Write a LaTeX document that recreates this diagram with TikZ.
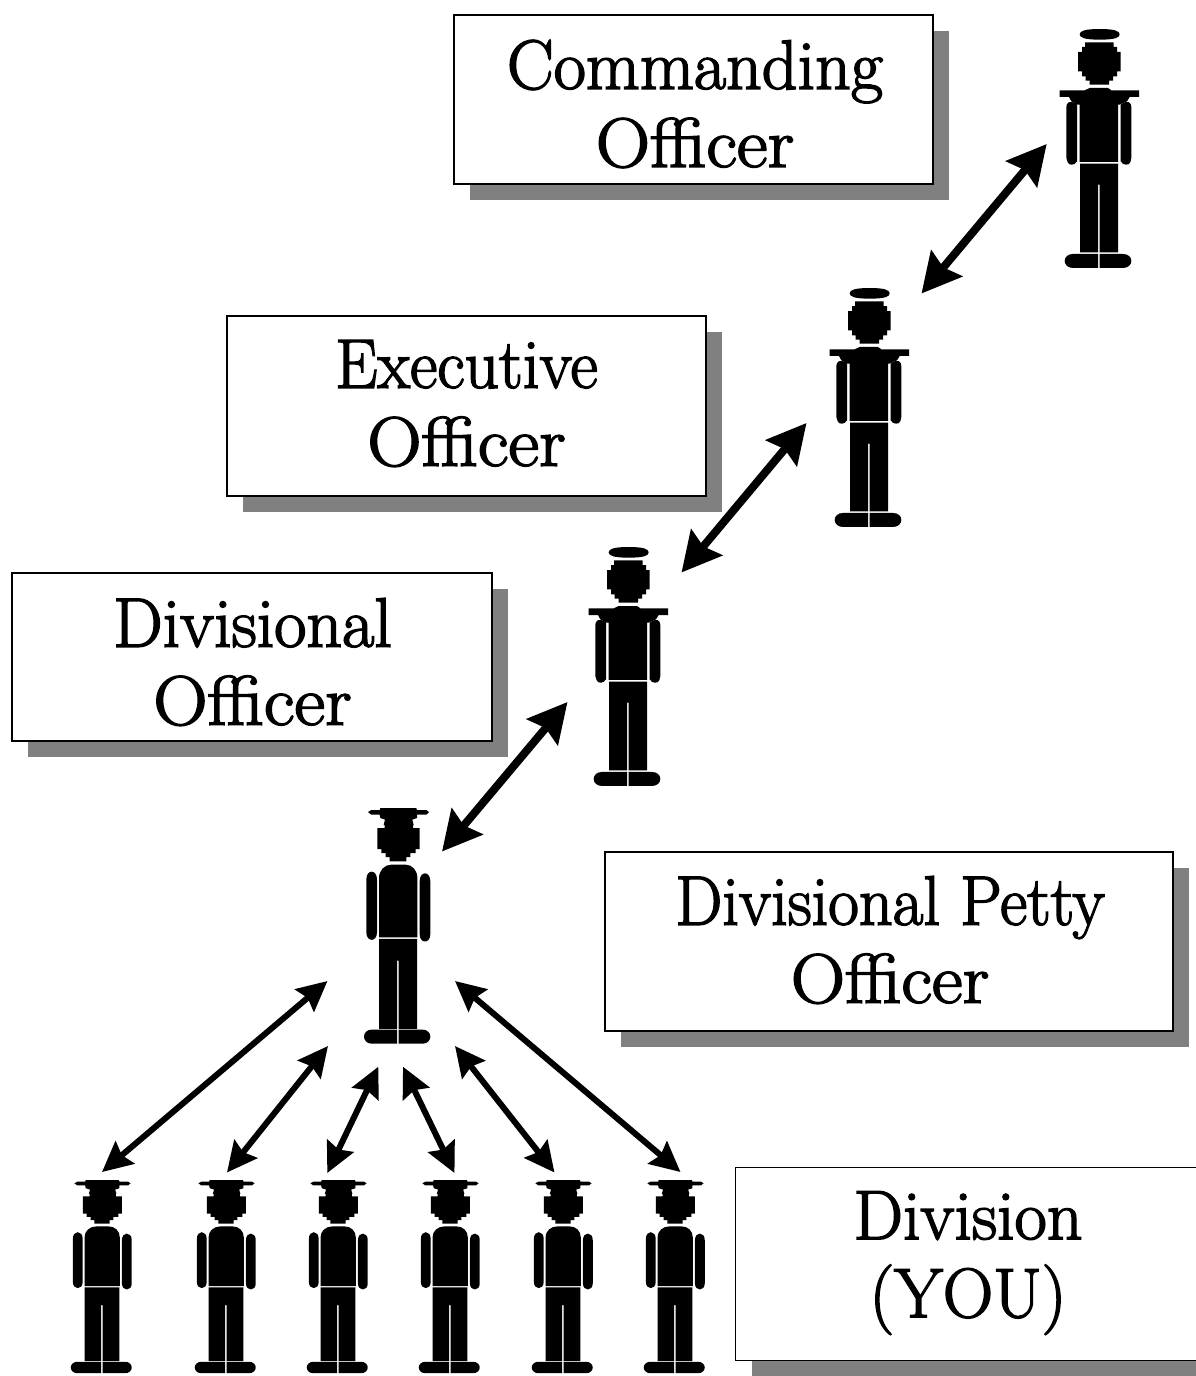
\documentclass[tikz,border=0pt]{standalone}
\usepackage{fontspec}
\usepackage{graphicx}
\usetikzlibrary{arrows.meta,shadows}
\newfontfamily\rankfont{Latin Modern Roman}[FakeBold=2.2]
\newcommand{\Offc}{\scalebox{1.075}[1]{Officer}}
\tikzset{
  every picture/.style={x=1pt,y=-1pt},
  ranktext/.style={align=center,inner sep=0pt,
    font=\rankfont\fontsize{70}{78}\selectfont},
  rankbox/.style={draw=black,line width=1.4pt,fill=white,inner sep=0pt,
    drop shadow={shadow xshift=16pt,shadow yshift=-16pt,fill=black!50,opacity=1}},
  link/.style={line width=8pt,{Stealth[length=39pt,width=40pt,inset=5pt]}-{Stealth[length=39pt,width=40pt,inset=5pt]}},
  sublink/.style={line width=6pt,{Stealth[length=30pt,width=29pt,inset=4pt]}-{Stealth[length=30pt,width=29pt,inset=4pt]}},
  pics/officer/.style={code={
    \begin{scope}[x=0.3333pt,y=-0.3333pt,shift={(-178,-28)}]
    \fill (120,44) .. controls (120,34) and (135,28) .. (180,28) .. controls (225,28) and (240,34) .. (240,44) .. controls (240,54) and (225,60) .. (180,60) .. controls (135,60) and (120,54) .. (120,44) -- cycle;
    \fill (136,68) -- (222,68) -- (222,82) -- (232,82) -- (232,97) -- (243,97) -- (243,155) -- (232,155) -- (232,170) -- (220,170) -- (220,183) -- (208,183) -- (208,195) -- (150,195) -- (150,183) -- (138,183) -- (138,170) -- (127,170) -- (127,155) -- (115,155) -- (115,97) -- (127,97) -- (127,82) -- (136,82) -- cycle;
    \fill (60,212) -- (135,212) -- (150,205) -- (205,205) -- (215,212) -- (298,212) -- (298,232) -- (270,232) -- (262,245) -- (240,255) -- (235,255) -- (235,427) -- (120,427) -- (120,255) -- (112,255) -- (95,245) -- (88,232) -- (60,232) -- cycle;
    \fill (80,262) .. controls (80,250) and (90,238) .. (112,255) -- (112,425) .. controls (105,438) and (88,438) .. (84,428) -- (80,415) -- cycle;
    \fill (243,255) .. controls (265,238) and (275,250) .. (275,262) -- (275,415) -- (272,428) .. controls (268,438) and (250,438) .. (243,425) -- cycle;
    \fill (121,432) -- (235,432) -- (235,698) -- (180,698) -- (180,495) -- (175,495) -- (175,698) -- (121,698) -- cycle;
    \fill (175,703) -- (175,745) -- (100,745) .. controls (85,745) and (75,735) .. (75,724) .. controls (75,712) and (85,703) .. (100,703) -- cycle;
    \fill (180,703) -- (180,745) -- (250,745) .. controls (265,745) and (275,735) .. (275,724) .. controls (275,712) and (265,703) .. (250,703) -- cycle;
    \end{scope}}},
  pics/petty/.style={code={
    \begin{scope}[x=0.3333pt,y=-0.3333pt,shift={(-175,-25)}]
    \fill (85,37) -- (95,31) -- (120,31) -- (122,25) -- (230,25) -- (232,31) -- (260,31) -- (268,37) -- (260,45) -- (232,45) -- (232,55) -- (218,60) -- (222,76) -- (132,76) -- (136,60) -- (122,55) -- (120,45) -- (95,45) -- cycle;
    \fill (135,72) -- (220,72) -- (220,85) -- (240,85) -- (240,148) -- (228,148) -- (228,160) -- (212,160) -- (212,172) -- (200,172) -- (200,185) -- (150,185) -- (150,172) -- (138,172) -- (138,160) -- (125,160) -- (125,148) -- (113,148) -- (113,85) -- (135,85) -- cycle;
    \fill (118,413) -- (118,235) .. controls (118,212) and (135,195) .. (155,195) -- (198,195) .. controls (218,195) and (233,212) .. (233,235) -- (233,413) -- cycle;
    \fill (80,240) .. controls (80,208) and (112,208) .. (112,240) -- (112,398) .. controls (112,428) and (80,428) .. (80,398) -- cycle;
    \fill (240,245) .. controls (240,213) and (272,213) .. (272,245) -- (272,403) .. controls (272,433) and (240,433) .. (240,403) -- cycle;
    \fill (118,418) -- (232,418) -- (232,688) -- (177,688) -- (177,483) -- (172,483) -- (172,688) -- (118,688) -- cycle;
    \fill (172,690) -- (172,732) -- (95,732) .. controls (82,732) and (73,722) .. (73,711) .. controls (73,700) and (82,690) .. (95,690) -- cycle;
    \fill (177,690) -- (177,732) -- (250,732) .. controls (263,732) and (272,722) .. (272,711) .. controls (272,700) and (263,690) .. (250,690) -- cycle;
    \end{scope}}}
}
\begin{document}
\begin{tikzpicture}
\useasboundingbox (0,0) rectangle (1196,1376);
% rank boxes
\node[rankbox,minimum width=479pt,minimum height=169pt] (co) at (693.5,99.5) {};
\node[rankbox,minimum width=479pt,minimum height=180pt] (xo) at (466.5,406) {};
\node[rankbox,minimum width=480pt,minimum height=168pt] (divo) at (252,657) {};
\node[rankbox,minimum width=568pt,minimum height=179pt] (dpo) at (889,941.5) {};
\node[rankbox,minimum width=480pt,minimum height=193pt,anchor=north west] (div) at (735,1167) {};
\node[ranktext] (cot) at (695,104) {Commanding\\\Offc};
\node[ranktext] (xot) at (466.5,403.5) {\scalebox{0.96}[1]{Executive}\\\Offc};
\node[ranktext] (divot) at (252.5,662) {Divisional\\\Offc};
\node[ranktext] (dpot) at (890,940) {\scalebox{0.95}[1]{Divisional Petty}\\\Offc};
\node[ranktext] (divt) at (968,1263) {Division\\(YOU)};
% figures
\pic at (1099,29) {officer};
\pic at (869,288) {officer};
\pic at (628,547) {officer};
\pic at (398,808) {petty};
\foreach \cx in {102,226,338,450,563,675}
  \pic[xscale=0.92,yscale=0.82] at (\cx,1180) {petty};
% connector ends
\coordinate (a1) at (1046.7,144); \coordinate (b1) at (921.5,293.5);
\coordinate (a2) at (806.5,423);  \coordinate (b2) at (681.5,572.5);
\coordinate (a3) at (567.5,702);  \coordinate (b3) at (442,851.5);
\coordinate (t1) at (327.5,981);  \coordinate (s1) at (102,1172);
\coordinate (t2) at (328,1046);   \coordinate (s2) at (227,1172.5);
\coordinate (t3) at (378.3,1066.7); \coordinate (s3) at (327.3,1173);
\coordinate (t4) at (403,1066.7); \coordinate (s4) at (454.5,1173);
\coordinate (t5) at (455,1046);   \coordinate (s5) at (554.5,1172.5);
\coordinate (t6) at (455,981);    \coordinate (s6) at (680.5,1172);
\draw[link] (a1) -- (b1);
\draw[link] (a2) -- (b2);
\draw[link] (a3) -- (b3);
\foreach \i in {1,...,6} \draw[sublink] (t\i) -- (s\i);
\end{tikzpicture}
\end{document}
